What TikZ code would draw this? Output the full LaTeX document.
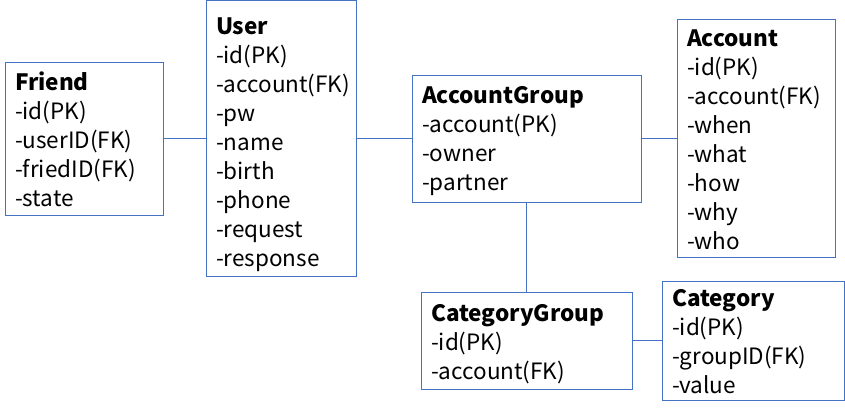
\documentclass[tikz,border=0pt]{standalone}
\usepackage{fontspec}
\setmainfont{Noto Sans CJK KR}
\usepackage{tikz}
\usetikzlibrary{positioning}
\definecolor{erdblue}{HTML}{4472C4}
\newcommand{\toppad}[1]{\rule{0pt}{#1}}
\newcommand{\entityfont}{\fontsize{22.5}{29}\selectfont\exhyphenpenalty=10000\relax\hyphenpenalty=10000\relax}
\tikzset{
    entity/.style={rectangle,draw=erdblue,line width=1pt,inner sep=0pt,align=left,
        node font=\entityfont},
    relation/.style={draw=erdblue,line width=1pt},
}

\begin{document}
\begin{tikzpicture}[x=1pt,y=-1pt]
    \useasboundingbox (0,0) rectangle (845,412);
    \node [entity,minimum width=158pt,minimum height=153pt,text width=138pt] (friend) at (84,138.5)
        {\toppad{21pt}\textbf{Friend}\\-id(PK)\\-userID(FK)\\-friedID(FK)\\-state};
    \node [entity,right=42pt of friend,minimum width=150pt,minimum height=275pt,text width=130pt] (user)
        {\toppad{29pt}\textbf{User}\\-id(PK)\\-account(FK)\\-pw\\-name\\-birth\\-phone\\-request\\-response};
    \node [entity,right=55pt of user,minimum width=229pt,minimum height=127pt,text width=209pt] (accgroup)
        {\toppad{23pt}\textbf{AccountGroup}\\-account(PK)\\-owner\\-partner};
    \node [entity,right=35pt of accgroup,minimum width=158pt,minimum height=237pt,text width=138pt] (account)
        {\toppad{19pt}\textbf{Account}\\-id(PK)\\-account(FK)\\-when\\-what\\-how\\-why\\-who};
    \node [entity,below=89pt of accgroup,minimum width=211pt,minimum height=97pt,text width=191pt] (catgroup)
        {\toppad{25pt}\textbf{CategoryGroup}\\-id(PK)\\-account(FK)};
    \node [entity,right=29pt of catgroup,minimum width=182pt,minimum height=119pt,text width=162pt] (category)
        {\toppad{20pt}\textbf{Category}\\-id(PK)\\-groupID(FK)\\-value};
    \path [relation] (friend) -- (user);
    \path [relation] (user) -- (accgroup);
    \path [relation] (accgroup) -- (account);
    \path [relation] (accgroup) -- (catgroup);
    \path [relation] (catgroup) -- (category);
\end{tikzpicture}
\end{document}
